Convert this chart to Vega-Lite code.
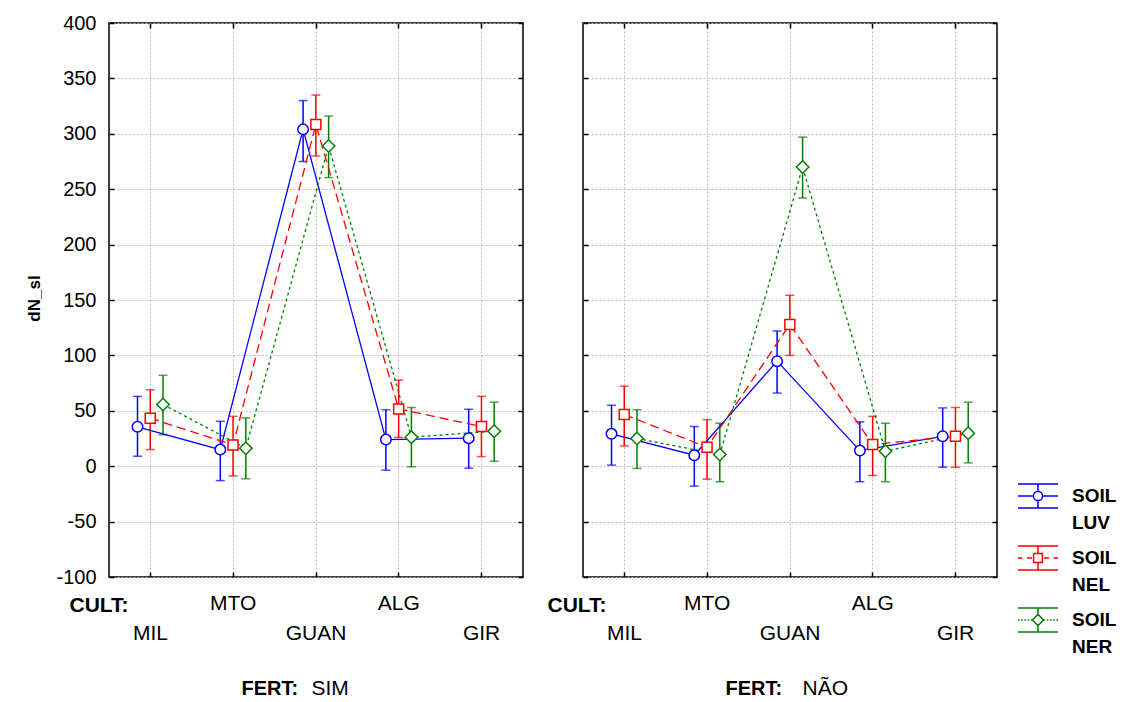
{
  "$schema": "https://vega.github.io/schema/vega-lite/v6.json",
  "background": "white",
  "padding": {"left": 24, "top": 12, "right": 0, "bottom": 0},
  "bounds": "flush",
  "spacing": 60,
  "config": {
    "view": {"stroke": "black", "strokeWidth": 1.5},
    "font": "Liberation Sans"
  },
  "datasets": {
    "d": [
      {"fert": "SIM", "cult": "MIL", "soil": "LUV", "mean": 35.6, "lo": 9, "hi": 63},
      {"fert": "SIM", "cult": "MTO", "soil": "LUV", "mean": 15, "lo": -13, "hi": 40.5},
      {"fert": "SIM", "cult": "GUAN", "soil": "LUV", "mean": 304, "lo": 275, "hi": 330},
      {"fert": "SIM", "cult": "ALG", "soil": "LUV", "mean": 24, "lo": -3.6, "hi": 51},
      {"fert": "SIM", "cult": "GIR", "soil": "LUV", "mean": 25.3, "lo": -1.8, "hi": 51.4},
      {"fert": "SIM", "cult": "MIL", "soil": "NEL", "mean": 43.3, "lo": 15, "hi": 69},
      {"fert": "SIM", "cult": "MTO", "soil": "NEL", "mean": 19.2, "lo": -8.7, "hi": 45},
      {"fert": "SIM", "cult": "GUAN", "soil": "NEL", "mean": 308.4, "lo": 280, "hi": 335},
      {"fert": "SIM", "cult": "ALG", "soil": "NEL", "mean": 51.7, "lo": 26, "hi": 77.6},
      {"fert": "SIM", "cult": "GIR", "soil": "NEL", "mean": 35.8, "lo": 8.7, "hi": 63},
      {"fert": "SIM", "cult": "MIL", "soil": "NER", "mean": 55.7, "lo": 28.3, "hi": 82},
      {"fert": "SIM", "cult": "MTO", "soil": "NER", "mean": 16.2, "lo": -11.4, "hi": 43.6},
      {"fert": "SIM", "cult": "GUAN", "soil": "NER", "mean": 289, "lo": 260.5, "hi": 316},
      {"fert": "SIM", "cult": "ALG", "soil": "NER", "mean": 26.2, "lo": -0.6, "hi": 53},
      {"fert": "SIM", "cult": "GIR", "soil": "NER", "mean": 31.6, "lo": 4.5, "hi": 57.8},
      {"fert": "NÃO", "cult": "MIL", "soil": "LUV", "mean": 29.2, "lo": 1, "hi": 55},
      {"fert": "NÃO", "cult": "MTO", "soil": "LUV", "mean": 9.9, "lo": -18, "hi": 35.8},
      {"fert": "NÃO", "cult": "GUAN", "soil": "LUV", "mean": 94.8, "lo": 66, "hi": 122},
      {"fert": "NÃO", "cult": "ALG", "soil": "LUV", "mean": 14.1, "lo": -14, "hi": 40},
      {"fert": "NÃO", "cult": "GIR", "soil": "LUV", "mean": 27, "lo": -0.9, "hi": 52.6},
      {"fert": "NÃO", "cult": "MIL", "soil": "NEL", "mean": 46.6, "lo": 18.3, "hi": 72.2},
      {"fert": "NÃO", "cult": "MTO", "soil": "NEL", "mean": 17.1, "lo": -11.7, "hi": 42},
      {"fert": "NÃO", "cult": "GUAN", "soil": "NEL", "mean": 128, "lo": 100, "hi": 154.3},
      {"fert": "NÃO", "cult": "ALG", "soil": "NEL", "mean": 19.6, "lo": -8.4, "hi": 45},
      {"fert": "NÃO", "cult": "GIR", "soil": "NEL", "mean": 27, "lo": -1, "hi": 53},
      {"fert": "NÃO", "cult": "MIL", "soil": "NER", "mean": 25, "lo": -2, "hi": 51},
      {"fert": "NÃO", "cult": "MTO", "soil": "NER", "mean": 10.5, "lo": -14, "hi": 38.8},
      {"fert": "NÃO", "cult": "GUAN", "soil": "NER", "mean": 270, "lo": 242, "hi": 297},
      {"fert": "NÃO", "cult": "ALG", "soil": "NER", "mean": 13.5, "lo": -14, "hi": 38.8},
      {"fert": "NÃO", "cult": "GIR", "soil": "NER", "mean": 29.8, "lo": 3, "hi": 57.8}
    ]
  },
  "data": {"name": "d"},
  "resolve": {"scale": {"color": "shared"}, "legend": {"color": "shared"}},
  "hconcat": [
    {
      "width": 414, "height": 554,
      "transform": [{"filter": "datum.fert === 'SIM'"}],
      "encoding": {
        "xOffset": {"field": "soil", "type": "nominal", "sort": ["LUV", "NEL", "NER"], "scale": {"type": "point", "domain": ["LUV", "NEL", "NER"], "range": [28.5, 54], "padding": 0}},
        "color": {"field": "soil", "type": "nominal", "scale": {"domain": ["LUV", "NEL", "NER"], "range": ["#0000ff", "#ff0000", "#008000"]},
          "legend": {"orient": "none", "legendX": 908, "legendY": 452, "title": null, "padding": 0,
            "labelExpr": "['SOIL', datum.label]", "labelFont": "Liberation Sans", "labelFontWeight": "bold", "labelFontSize": 19, "labelColor": "black", "labelBaseline": "middle", "labelOffset": 13,
            "symbolType": "circle", "symbolSize": 1600, "symbolStrokeWidth": 1.5, "symbolFillColor": "white", "symbolOpacity": 1, "rowPadding": 4,
            "encode": {
              "labels": {"update": {"lineHeight": {"value": 27}}},
              "symbols": {"update": {
              "shape": {"signal": "datum.value === 'LUV' ? 'M-1,-0.6H1M-1,0.6H1M0,-0.6V-0.23M0,0.23V0.6M-1,0H-0.23M0.23,0H1M0.23,0A0.23,0.23 0 1 1 -0.23,0A0.23,0.23 0 1 1 0.23,0A0.23,0.23 0 1 0 -0.23,0A0.23,0.23 0 1 0 0.23,0' : datum.value === 'NEL' ? 'M-1,-0.6H1M-1,0.6H1M0,-0.6V-0.22M0,0.22V0.6M-1,0H-0.78M-0.55,0H-0.3M0.3,0H0.55M0.78,0H1M-0.22,-0.22H0.22V0.22H-0.22V-0.22V0.22H0.22V-0.22H-0.22' : 'M-1,-0.6H1M-1,0.6H1M0,-0.6V-0.28M0,0.28V0.6M-1,0H-0.92M-0.84,0H-0.76M-0.68,0H-0.6M-0.52,0H-0.44M-0.36,0H-0.3M0.3,0H0.36M0.44,0H0.52M0.6,0H0.68M0.76,0H0.84M0.92,0H1M0,-0.28L0.28,0L0,0.28L-0.28,0L0,-0.28L-0.28,0L0,0.28L0.28,0L0,-0.28'"},
              "size": {"value": 1600},
              "strokeWidth": {"value": 1.5},
              "opacity": {"value": 1}}}}
          }
        }
      },
      "layer": [
        {
          "mark": {"type": "rule", "strokeWidth": 1.5},
          "encoding": {
            "x": {"field": "cult", "type": "nominal", "sort": ["MIL", "MTO", "GUAN", "ALG", "GIR"], "scale": {"paddingInner": 0, "paddingOuter": 0},
              "axis": {"orient": "bottom", "bandPosition": 0.5, "grid": true, "gridDash": [2, 2], "gridColor": "#bcbcbc", "gridWidth": 1, "domain": false, "ticks": true, "tickSize": -5, "tickWidth": 1.5, "tickColor": "black", "labelAngle": 0, "labelOverlap": false,
                "labelExpr": "indexof(['MTO','ALG'], datum.value) >= 0 ? [datum.label, ''] : ['', datum.label]",
                "labelFont": "Liberation Sans", "labelFontSize": 21, "labelColor": "black", "labelLineHeight": 30, "labelBaseline": "top", "labelPadding": 20,
                "title": "FERT:", "titleX": 132, "titleY": 111, "titleAlign": "left", "titleBaseline": "middle", "titleFont": "Liberation Sans", "titleFontSize": 20, "titleFontWeight": "bold", "titleColor": "black"}},
            "y": {"field": "lo", "type": "quantitative", "scale": {"domain": [-100, 400], "nice": false, "zero": false},
              "axis": {"orient": "left", "values": [-100, -50, 0, 50, 100, 150, 200, 250, 300, 350, 400], "grid": true, "gridDash": [2, 2], "gridColor": "#bcbcbc", "gridWidth": 1, "domain": false, "ticks": true, "tickSize": -5, "tickWidth": 1.5, "tickColor": "black",
                "labelExpr": "replace(datum.label, '−', '-')",
                "labelFont": "Liberation Sans", "labelFontSize": 20, "labelColor": "black", "labelPadding": 18,
                "title": "dN_sl", "titleX": -75, "titleY": 275, "titleAngle": 270, "titleAlign": "center", "titleBaseline": "middle", "titleFont": "Liberation Sans", "titleFontSize": 17, "titleFontWeight": "bold", "titleColor": "black"}},
            "y2": {"field": "hi"}
          }
        },
        {
          "mark": {"type": "tick", "size": 9, "thickness": 1.5},
          "encoding": {
            "x": {"field": "cult", "type": "nominal", "sort": ["MIL", "MTO", "GUAN", "ALG", "GIR"], "axis": null},
            "y": {"field": "lo", "type": "quantitative", "axis": null}
          }
        },
        {
          "mark": {"type": "tick", "size": 9, "thickness": 1.5},
          "encoding": {
            "x": {"field": "cult", "type": "nominal", "sort": ["MIL", "MTO", "GUAN", "ALG", "GIR"], "axis": null},
            "y": {"field": "hi", "type": "quantitative", "axis": null}
          }
        },
        {
          "transform": [{"filter": "datum.soil === 'LUV'"}],
          "mark": {"type": "line", "strokeWidth": 1.3},
          "encoding": {
            "x": {"field": "cult", "type": "nominal", "sort": ["MIL", "MTO", "GUAN", "ALG", "GIR"],
              "axis": {"orient": "top", "bandPosition": 0.5, "labels": false, "grid": false, "domain": false, "ticks": true, "tickSize": -5, "tickWidth": 1.5, "tickColor": "black",
                "title": "SIM", "titleX": 202, "titleY": 665, "titleAlign": "left", "titleBaseline": "middle", "titleFont": "Liberation Sans", "titleFontSize": 21, "titleFontWeight": "normal", "titleColor": "black"}},
            "y": {"field": "mean", "type": "quantitative", "axis": null}
          }
        },
        {
          "transform": [{"filter": "datum.soil === 'NEL'"}],
          "mark": {"type": "line", "strokeWidth": 1.3, "strokeDash": [9, 5]},
          "encoding": {
            "x": {"field": "cult", "type": "nominal", "sort": ["MIL", "MTO", "GUAN", "ALG", "GIR"], "axis": null},
            "y": {"field": "mean", "type": "quantitative", "axis": null}
          }
        },
        {
          "transform": [{"filter": "datum.soil === 'NER'"}],
          "mark": {"type": "line", "strokeWidth": 1.3, "strokeDash": [3, 3]},
          "encoding": {
            "x": {"field": "cult", "type": "nominal", "sort": ["MIL", "MTO", "GUAN", "ALG", "GIR"], "axis": null},
            "y": {"field": "mean", "type": "quantitative", "axis": null}
          }
        },
        {
          "transform": [{"filter": "datum.soil === 'LUV'"}],
          "mark": {"type": "point", "shape": "circle", "size": 110, "filled": false, "fill": "white", "fillOpacity": 1, "opacity": 1, "strokeWidth": 1.5},
          "encoding": {
            "x": {"field": "cult", "type": "nominal", "sort": ["MIL", "MTO", "GUAN", "ALG", "GIR"], "axis": null},
            "y": {"field": "mean", "type": "quantitative",
              "axis": {"orient": "right", "values": [-100, -50, 0, 50, 100, 150, 200, 250, 300, 350, 400], "labels": false, "grid": false, "domain": false, "ticks": true, "tickSize": -5, "tickWidth": 1.5, "tickColor": "black",
                "title": "CULT:", "titleX": -454, "titleY": 582, "titleAngle": 0, "titleAlign": "left", "titleBaseline": "middle", "titleFont": "Liberation Sans", "titleFontSize": 21, "titleFontWeight": "bold", "titleColor": "black"}}
          }
        },
        {
          "transform": [{"filter": "datum.soil === 'NEL'"}],
          "mark": {"type": "point", "shape": "square", "size": 100, "filled": false, "fill": "white", "fillOpacity": 1, "opacity": 1, "strokeWidth": 1.5},
          "encoding": {
            "x": {"field": "cult", "type": "nominal", "sort": ["MIL", "MTO", "GUAN", "ALG", "GIR"], "axis": null},
            "y": {"field": "mean", "type": "quantitative", "axis": null}
          }
        },
        {
          "transform": [{"filter": "datum.soil === 'NER'"}],
          "mark": {"type": "point", "shape": "diamond", "size": 156, "filled": false, "fill": "white", "fillOpacity": 1, "opacity": 1, "strokeWidth": 1.5},
          "encoding": {
            "x": {"field": "cult", "type": "nominal", "sort": ["MIL", "MTO", "GUAN", "ALG", "GIR"], "axis": null},
            "y": {"field": "mean", "type": "quantitative", "axis": null}
          }
        }
      ],
      "resolve": {"axis": {"x": "independent", "y": "independent"}}
    },
    {
      "width": 414, "height": 554,
      "transform": [{"filter": "datum.fert === 'NÃO'"}],
      "encoding": {
        "xOffset": {"field": "soil", "type": "nominal", "sort": ["LUV", "NEL", "NER"], "scale": {"type": "point", "domain": ["LUV", "NEL", "NER"], "range": [28.5, 54], "padding": 0}},
        "color": {"field": "soil", "type": "nominal", "scale": {"domain": ["LUV", "NEL", "NER"], "range": ["#0000ff", "#ff0000", "#008000"]}}
      },
      "layer": [
        {
          "mark": {"type": "rule", "strokeWidth": 1.5},
          "encoding": {
            "x": {"field": "cult", "type": "nominal", "sort": ["MIL", "MTO", "GUAN", "ALG", "GIR"], "scale": {"paddingInner": 0, "paddingOuter": 0},
              "axis": {"orient": "bottom", "bandPosition": 0.5, "grid": true, "gridDash": [2, 2], "gridColor": "#bcbcbc", "gridWidth": 1, "domain": false, "ticks": true, "tickSize": -5, "tickWidth": 1.5, "tickColor": "black", "labelAngle": 0, "labelOverlap": false,
                "labelExpr": "indexof(['MTO','ALG'], datum.value) >= 0 ? [datum.label, ''] : ['', datum.label]",
                "labelFont": "Liberation Sans", "labelFontSize": 21, "labelColor": "black", "labelLineHeight": 30, "labelBaseline": "top", "labelPadding": 20,
                "title": "FERT:", "titleX": 142, "titleY": 111, "titleAlign": "left", "titleBaseline": "middle", "titleFont": "Liberation Sans", "titleFontSize": 20, "titleFontWeight": "bold", "titleColor": "black"}},
            "y": {"field": "lo", "type": "quantitative", "scale": {"domain": [-100, 400], "nice": false, "zero": false},
              "axis": {"orient": "left", "values": [-100, -50, 0, 50, 100, 150, 200, 250, 300, 350, 400], "grid": true, "gridDash": [2, 2], "gridColor": "#bcbcbc", "gridWidth": 1, "domain": false, "ticks": true, "tickSize": -5, "tickWidth": 1.5, "tickColor": "black", "labels": false, "title": null}},
            "y2": {"field": "hi"}
          }
        },
        {
          "mark": {"type": "tick", "size": 9, "thickness": 1.5},
          "encoding": {
            "x": {"field": "cult", "type": "nominal", "sort": ["MIL", "MTO", "GUAN", "ALG", "GIR"], "axis": null},
            "y": {"field": "lo", "type": "quantitative", "axis": null}
          }
        },
        {
          "mark": {"type": "tick", "size": 9, "thickness": 1.5},
          "encoding": {
            "x": {"field": "cult", "type": "nominal", "sort": ["MIL", "MTO", "GUAN", "ALG", "GIR"], "axis": null},
            "y": {"field": "hi", "type": "quantitative", "axis": null}
          }
        },
        {
          "transform": [{"filter": "datum.soil === 'LUV'"}],
          "mark": {"type": "line", "strokeWidth": 1.3},
          "encoding": {
            "x": {"field": "cult", "type": "nominal", "sort": ["MIL", "MTO", "GUAN", "ALG", "GIR"],
              "axis": {"orient": "top", "bandPosition": 0.5, "labels": false, "grid": false, "domain": false, "ticks": true, "tickSize": -5, "tickWidth": 1.5, "tickColor": "black",
                "title": "NÃO", "titleX": 219, "titleY": 665, "titleAlign": "left", "titleBaseline": "middle", "titleFont": "Liberation Sans", "titleFontSize": 21, "titleFontWeight": "normal", "titleColor": "black"}},
            "y": {"field": "mean", "type": "quantitative", "axis": null}
          }
        },
        {
          "transform": [{"filter": "datum.soil === 'NEL'"}],
          "mark": {"type": "line", "strokeWidth": 1.3, "strokeDash": [9, 5]},
          "encoding": {
            "x": {"field": "cult", "type": "nominal", "sort": ["MIL", "MTO", "GUAN", "ALG", "GIR"], "axis": null},
            "y": {"field": "mean", "type": "quantitative", "axis": null}
          }
        },
        {
          "transform": [{"filter": "datum.soil === 'NER'"}],
          "mark": {"type": "line", "strokeWidth": 1.3, "strokeDash": [3, 3]},
          "encoding": {
            "x": {"field": "cult", "type": "nominal", "sort": ["MIL", "MTO", "GUAN", "ALG", "GIR"], "axis": null},
            "y": {"field": "mean", "type": "quantitative", "axis": null}
          }
        },
        {
          "transform": [{"filter": "datum.soil === 'LUV'"}],
          "mark": {"type": "point", "shape": "circle", "size": 110, "filled": false, "fill": "white", "fillOpacity": 1, "opacity": 1, "strokeWidth": 1.5},
          "encoding": {
            "x": {"field": "cult", "type": "nominal", "sort": ["MIL", "MTO", "GUAN", "ALG", "GIR"], "axis": null},
            "y": {"field": "mean", "type": "quantitative",
              "axis": {"orient": "right", "values": [-100, -50, 0, 50, 100, 150, 200, 250, 300, 350, 400], "labels": false, "grid": false, "domain": false, "ticks": true, "tickSize": -5, "tickWidth": 1.5, "tickColor": "black",
                "title": "CULT:", "titleX": -450, "titleY": 582, "titleAngle": 0, "titleAlign": "left", "titleBaseline": "middle", "titleFont": "Liberation Sans", "titleFontSize": 21, "titleFontWeight": "bold", "titleColor": "black"}}
          }
        },
        {
          "transform": [{"filter": "datum.soil === 'NEL'"}],
          "mark": {"type": "point", "shape": "square", "size": 100, "filled": false, "fill": "white", "fillOpacity": 1, "opacity": 1, "strokeWidth": 1.5},
          "encoding": {
            "x": {"field": "cult", "type": "nominal", "sort": ["MIL", "MTO", "GUAN", "ALG", "GIR"], "axis": null},
            "y": {"field": "mean", "type": "quantitative", "axis": null}
          }
        },
        {
          "transform": [{"filter": "datum.soil === 'NER'"}],
          "mark": {"type": "point", "shape": "diamond", "size": 156, "filled": false, "fill": "white", "fillOpacity": 1, "opacity": 1, "strokeWidth": 1.5},
          "encoding": {
            "x": {"field": "cult", "type": "nominal", "sort": ["MIL", "MTO", "GUAN", "ALG", "GIR"], "axis": null},
            "y": {"field": "mean", "type": "quantitative", "axis": null}
          }
        }
      ],
      "resolve": {"axis": {"x": "independent", "y": "independent"}}
    }
  ]
}
